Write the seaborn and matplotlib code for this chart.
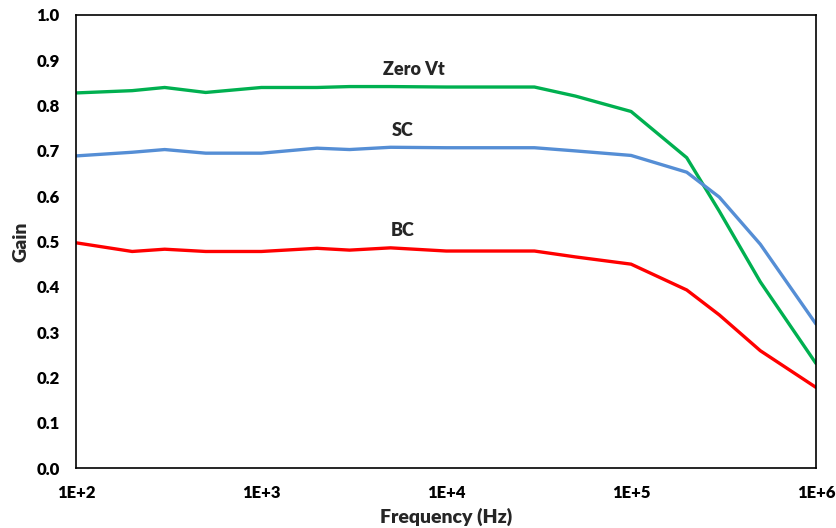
import numpy as np
import pandas as pd
import matplotlib
matplotlib.use("Agg")
import matplotlib.pyplot as plt
import seaborn as sns
from matplotlib.ticker import FixedLocator, LogLocator, NullFormatter

freq = [1e2, 2e2, 3e2, 5e2, 1e3, 2e3, 3e3, 5e3, 1e4, 2e4, 3e4, 5e4, 1e5, 2e5, 3e5, 5e5, 1e6]
zero_vt = [0.828, 0.833, 0.840, 0.829, 0.840, 0.840, 0.842, 0.842, 0.841, 0.841, 0.841, 0.821, 0.787, 0.685, 0.567, 0.411, 0.231]
sc = [0.689, 0.697, 0.703, 0.695, 0.695, 0.706, 0.703, 0.708, 0.707, 0.707, 0.707, 0.700, 0.690, 0.653, 0.598, 0.494, 0.318]
bc = [0.497, 0.478, 0.483, 0.478, 0.478, 0.485, 0.481, 0.486, 0.479, 0.479, 0.479, 0.466, 0.450, 0.393, 0.338, 0.259, 0.178]

series_names = ["Zero Vt", "SC", "BC"]
colors = ["#00B050", "#558ED5", "#FF0000"]
label_pos = [(6700, 0.879), (5800, 0.746), (5800, 0.525)]

x_ticks = [1e2, 1e3, 1e4, 1e5, 1e6]
x_tick_labels = ["1E+2", "1E+3", "1E+4", "1E+5", "1E+6"]
y_ticks = [0.0, 0.1, 0.2, 0.3, 0.4, 0.5, 0.6, 0.7, 0.8, 0.9, 1.0]
y_tick_labels = ["0.0", "0.1", "0.2", "0.3", "0.4", "0.5", "0.6", "0.7", "0.8", "0.9", "1.0"]

df = pd.DataFrame({
    "Frequency": freq * 3,
    "Gain": zero_vt + sc + bc,
    "Series": [n for n in series_names for _ in freq],
})

sns.set_style("white")
plt.rcParams["font.family"] = ["Lato", "DejaVu Sans"]
plt.rcParams["font.weight"] = "heavy"

W = "heavy"
fig = plt.figure(figsize=(8.36, 5.28), dpi=100)
ax = fig.add_axes([0.0915, 0.1136, 0.8845, 0.858])

sns.lineplot(data=df, x="Frequency", y="Gain", hue="Series",
             palette=dict(zip(series_names, colors)), linewidth=2.4,
             legend=False, ax=ax, estimator=None, sort=False)

ax.set_xscale("log")
ax.set_xlim(1e2, 1e6)
ax.set_ylim(0, 1.0)

ax.xaxis.set_major_locator(FixedLocator(x_ticks))
ax.set_xticklabels(x_tick_labels)
ax.xaxis.set_minor_locator(LogLocator(base=10, subs=np.arange(2, 10)))
ax.xaxis.set_minor_formatter(NullFormatter())
ax.set_yticks(y_ticks)
ax.set_yticklabels(y_tick_labels)

ax.tick_params(axis="both", which="major", direction="in", length=5, width=1,
               labelsize=12, colors="black")
ax.tick_params(axis="y", which="major", pad=12)
ax.tick_params(axis="x", which="major", pad=12)
ax.tick_params(axis="x", which="minor", direction="in", length=3, width=1, colors="black")
ax.tick_params(top=False, right=False, which="both")
for lbl in ax.get_xticklabels() + ax.get_yticklabels():
    lbl.set_fontweight(W)

for s in ax.spines.values():
    s.set_visible(True)
    s.set_color("black")
    s.set_linewidth(1.2)

ax.set_xlabel("Frequency (Hz)", fontsize=14, fontweight=W, labelpad=5)
ax.set_ylabel("Gain", fontsize=14, fontweight=W, labelpad=5)

for name, (lx, ly) in zip(series_names, label_pos):
    ax.text(lx, ly, name, fontsize=13, fontweight=W, ha="center", va="center")

fig.savefig("out.png", dpi=100)
